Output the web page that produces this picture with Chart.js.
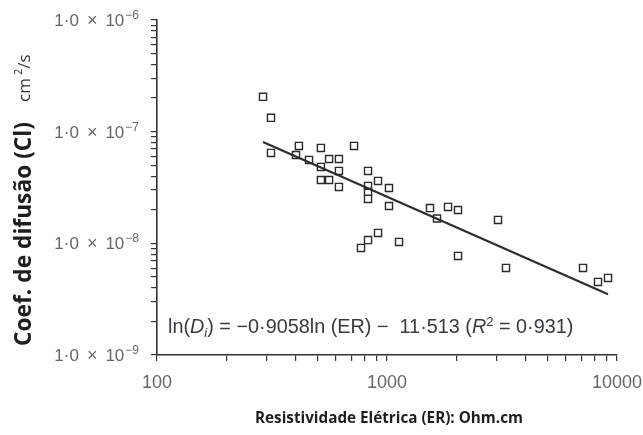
<!DOCTYPE html>
<html><head><meta charset="utf-8">
<script src="https://cdn.jsdelivr.net/npm/chart.js@4.4.0/dist/chart.umd.min.js"></script>
<style>html,body{margin:0;padding:0;background:#fff}#wrap{width:643px;height:435px}</style>
</head><body><div id="wrap"><canvas id="c" width="643" height="435"></canvas></div>
<script>
// ---- data ----
const resistivity = [289, 313, 313, 414, 402, 458, 516, 516, 560, 618, 618, 516, 560, 618, 719, 827, 827, 827, 827, 914, 1020, 1020, 771, 827, 914, 1128, 1538, 1650, 1842, 2036, 2036, 3039, 3292, 7116, 8269, 9140];
const diffusion = [2.05e-7, 1.33e-7, 6.45e-8, 7.45e-8, 6.18e-8, 5.58e-8, 7.15e-8, 4.83e-8, 5.69e-8, 5.69e-8, 4.45e-8, 3.69e-8, 3.69e-8, 3.20e-8, 7.45e-8, 4.45e-8, 3.27e-8, 2.89e-8, 2.50e-8, 3.62e-8, 3.13e-8, 2.16e-8, 9.1e-9, 1.07e-8, 1.24e-8, 1.03e-8, 2.07e-8, 1.67e-8, 2.12e-8, 1.99e-8, 7.71e-9, 1.62e-8, 6.02e-9, 6.02e-9, 4.51e-9, 4.90e-9];
const fitER = [289, 9140];
const fitD = [8.1e-8, 3.5e-9];
const xRange = [100, 10000];
const yRange = [1e-9, 1e-6];
const xTickValues = [100, 1000, 10000];
const xTickLabels = ['100', '1000', '10000'];
const yTickExponents = [-6, -7, -8, -9];
const yTickMantissa = '1·0';
const xTitle = 'Resistividade Elétrica (ER): Ohm.cm';
const yTitle = 'Coef. de difusão (Cl)';
const equationPieces = [
  ['ln(', 'n'], ['D', 'i'], ['i', 'sub'], [') = −0·9058ln (ER) −  11·513 (', 'n'],
  ['R', 'i'], ['2', 'sup'], [' = 0·931)', 'n']
];

const FAM = '"Liberation Sans", Arial, sans-serif';
const TFAM = '"Open Sans", "Noto Sans", sans-serif';

// minor + major tick positions of a log axis (1..9 per decade)
function logTicks(lo, hi) {
  const t = [];
  const e0 = Math.round(Math.log10(lo)), e1 = Math.round(Math.log10(hi));
  for (let e = e0; e < e1; e++) for (let m = 1; m <= 9; m++) t.push({ value: m * Math.pow(10, e) });
  t.push({ value: Math.pow(10, e1) });
  return t;
}

const textPlugin = {
  id: 'textPlugin',
  afterDraw(chart) {
    const ctx = chart.ctx;
    const xs = chart.scales.x, ys = chart.scales.y;
    ctx.save();
    // y tick labels with superscript exponents
    ctx.fillStyle = '#666';
    ctx.textBaseline = 'alphabetic';
    yTickExponents.forEach(e => {
      const py = ys.getPixelForValue(Math.pow(10, e));
      const parts = [[yTickMantissa, 17, 0, 0], ['×', 18, 8, 0], ['10', 17, 8, 0], ['−' + Math.abs(e), 12, 1, -7]];
      let total = 0;
      parts.forEach(p => { ctx.font = p[1] + 'px ' + FAM; total += p[2] + ctx.measureText(p[0]).width; });
      let x = 139 - total;
      parts.forEach(p => {
        ctx.font = p[1] + 'px ' + FAM; x += p[2];
        ctx.textAlign = 'left';
        ctx.fillText(p[0], x, py + 6 + p[3]);
        x += ctx.measureText(p[0]).width;
      });
    });
    // x tick labels
    ctx.font = '18px ' + FAM;
    ctx.textAlign = 'center';
    xTickValues.forEach((v, i) => {
      ctx.fillText(xTickLabels[i], xs.getPixelForValue(v), 388);
    });
    // equation
    ctx.fillStyle = '#3a3a44';
    const base = 16;
    const fontFor = (s, sz) => (s === 'i' || s === 'sub' ? 'italic ' : '') + (s === 'sub' || s === 'sup' ? Math.round(sz * 0.65) : sz) + 'px ' + FAM;
    let w = 0;
    equationPieces.forEach(p => { ctx.font = fontFor(p[1], base); w += ctx.measureText(p[0]).width; });
    const size = base * 405 / w;
    let ex = 168;
    ctx.textAlign = 'left';
    equationPieces.forEach(p => {
      ctx.font = fontFor(p[1], size);
      const dy = p[1] === 'sub' ? 4 : (p[1] === 'sup' ? -7 : 0);
      ctx.fillText(p[0], ex, 333 + dy);
      ex += ctx.measureText(p[0]).width;
    });
    // x title
    ctx.fillStyle = '#1e1e1e';
    ctx.font = 'bold 16px ' + TFAM;
    let tw = ctx.measureText(xTitle).width;
    let ts = 16 * 268 / tw;
    ctx.font = 'bold ' + ts + 'px ' + TFAM;
    ctx.textAlign = 'center';
    ctx.textBaseline = 'middle';
    ctx.fillText(xTitle, 389, 419);
    // y title (rotated)
    ctx.translate(31, 0);
    ctx.rotate(-Math.PI / 2);
    ctx.textBaseline = 'alphabetic';
    ctx.font = 'bold 16px ' + TFAM;
    tw = ctx.measureText(yTitle).width;
    ts = 16 * 224 / tw;
    ctx.font = 'bold ' + ts + 'px ' + TFAM;
    ctx.textAlign = 'center';
    ctx.fillText(yTitle, -234, 0);
    // unit cm²/s
    ctx.fillStyle = '#333';
    ctx.textAlign = 'left';
    let ux = -102;
    const unit = [['cm', 17, 0, 0], ['2', 11, -8, 3], ['/s', 17, 0, 0]];
    unit.forEach(p => {
      ctx.font = p[1] + 'px ' + TFAM;
      ux += p[3];
      ctx.fillText(p[0], ux, p[2] - 1);
      ux += ctx.measureText(p[0]).width;
    });
    ctx.restore();
  }
};

function axisOptions(extra) {
  return Object.assign({
    type: 'logarithmic',
    grid: { display: true, drawOnChartArea: false, drawTicks: true, tickLength: 6, color: '#333333', lineWidth: 1.2 },
    border: { display: true, color: '#333333', width: 1.6 },
    ticks: { display: false, autoSkip: false }
  }, extra);
}

new Chart(document.getElementById('c').getContext('2d'), {
  type: 'scatter',
  data: {
    datasets: [
      {
        label: 'Dados',
        data: resistivity.map((x, i) => ({ x: x, y: diffusion[i] })),
        pointStyle: 'rect', pointRadius: 5, borderColor: '#2a2a2a', borderWidth: 1.4,
        backgroundColor: 'rgba(255,255,255,0)', showLine: false, order: 1
      },
      {
        label: 'Ajuste', type: 'line',
        data: fitER.map((x, i) => ({ x: x, y: fitD[i] })),
        borderColor: '#2e2e2e', borderWidth: 2.2, pointRadius: 0, fill: false, tension: 0, order: 2
      }
    ]
  },
  options: {
    responsive: false, animation: false, devicePixelRatio: 1,
    layout: { padding: { top: 20, right: 26, left: 0, bottom: 0 } },
    plugins: { legend: { display: false }, tooltip: { enabled: false } },
    scales: {
      x: axisOptions({
        position: 'bottom', min: xRange[0], max: xRange[1],
        afterBuildTicks: s => { s.ticks = logTicks(xRange[0], xRange[1]); },
        afterFit: s => { s.height = 80; }
      }),
      y: axisOptions({
        position: 'left', min: yRange[0], max: yRange[1],
        afterBuildTicks: s => { s.ticks = logTicks(yRange[0], yRange[1]); },
        afterFit: s => { s.width = 157; }
      })
    }
  },
  plugins: [textPlugin]
});
</script></body></html>
